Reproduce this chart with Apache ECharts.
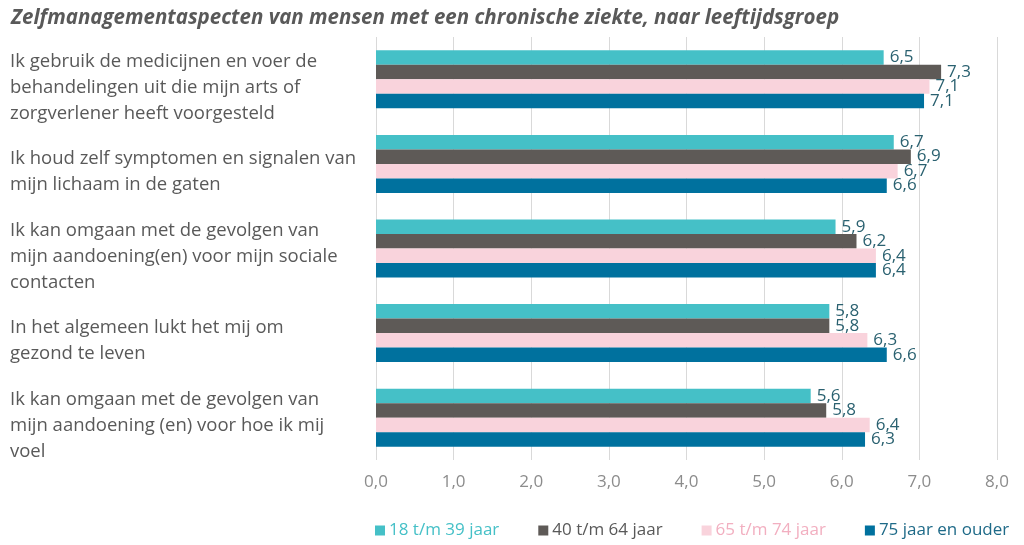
<!DOCTYPE html>
<html><head><meta charset="utf-8">
<script src="https://cdn.jsdelivr.net/npm/echarts@6/dist/echarts.min.js"></script>
<style>html,body{margin:0;padding:0;background:#fff;}#c{width:1024px;height:545px;}</style>
</head><body><div id="c"></div>
<script>
const categories = [
  "Ik gebruik de medicijnen en voer de\nbehandelingen uit die mijn arts of\nzorgverlener heeft voorgesteld",
  "Ik houd zelf symptomen en signalen van\nmijn lichaam in de gaten",
  "Ik kan omgaan met de gevolgen van\nmijn aandoening(en) voor mijn sociale\ncontacten",
  "In het algemeen lukt het mij om\ngezond te leven",
  "Ik kan omgaan met de gevolgen van\nmijn aandoening (en) voor hoe ik mij\nvoel"
];
const seriesNames = ["18 t/m 39 jaar", "40 t/m 64 jaar", "65 t/m 74 jaar", "75 jaar en ouder"];
const age18_39 = [6.54, 6.67, 5.92, 5.84, 5.60];
const age40_64 = [7.28, 6.89, 6.19, 5.84, 5.80];
const age65_74 = [7.13, 6.72, 6.44, 6.33, 6.36];
const age75plus = [7.06, 6.58, 6.44, 6.58, 6.30];
const xTicks = [0, 1, 2, 3, 4, 5, 6, 7, 8];

const colors = ["#45C0C7", "#5E5A57", "#F9D3DC", "#00719E"];
const legendTextColors = ["#45C0C7", "#595959", "#F2AFC0", "#1E6A88"];
const fmt = v => v.toFixed(1).replace('.', ',');

const chart = echarts.init(document.getElementById('c'));
const dataSets = [age18_39, age40_64, age65_74, age75plus];
chart.setOption({
  animation: false,
  title: {
    text: "Zelfmanagementaspecten van mensen met een chronische ziekte, naar leeftijdsgroep",
    left: 6, top: 3,
    textStyle: {fontFamily: "Open Sans", fontStyle: "italic", fontWeight: "bold", fontSize: 20.5, color: "#595959"}
  },
  legend: {
    top: 517, left: 370, itemWidth: 10, itemHeight: 10, itemGap: 39, icon: 'rect',
    data: seriesNames.map((n, i) => ({name: n, textStyle: {color: legendTextColors[i]}})),
    textStyle: {fontFamily: "Open Sans", fontSize: 17, padding: [0, 0, 0, -1]}
  },
  grid: {left: 376, right: 27, top: 37, bottom: 85, containLabel: false},
  xAxis: {
    type: 'value', min: xTicks[0], max: xTicks[xTicks.length - 1], interval: 1,
    axisLine: {show: false}, axisTick: {show: false},
    splitLine: {lineStyle: {color: "#D9D9D9", width: 1}},
    axisLabel: {formatter: v => fmt(v), color: "#8C8C8C", fontFamily: "Open Sans", fontSize: 17, margin: 14}
  },
  yAxis: {
    type: 'category', inverse: true, data: categories,
    axisLine: {show: false}, axisTick: {show: false},
    axisLabel: {
      align: 'left', margin: 366, color: "#595959", fontFamily: "Open Sans", fontSize: 18.5, lineHeight: 26,
      formatter: v => '{sp|}\n' + v,
      rich: {sp: {height: 16, lineHeight: 16, fontSize: 1}}
    }
  },
  series: dataSets.map((d, i) => ({
    name: seriesNames[i], type: 'bar', data: d,
    barWidth: 14.5, barGap: '0%',
    itemStyle: {color: colors[i]},
    label: {show: true, position: 'right', distance: 6, formatter: p => fmt(p.value),
      color: "#2A6170", fontFamily: "Open Sans", fontSize: 17}
  }))
});
</script></body></html>
